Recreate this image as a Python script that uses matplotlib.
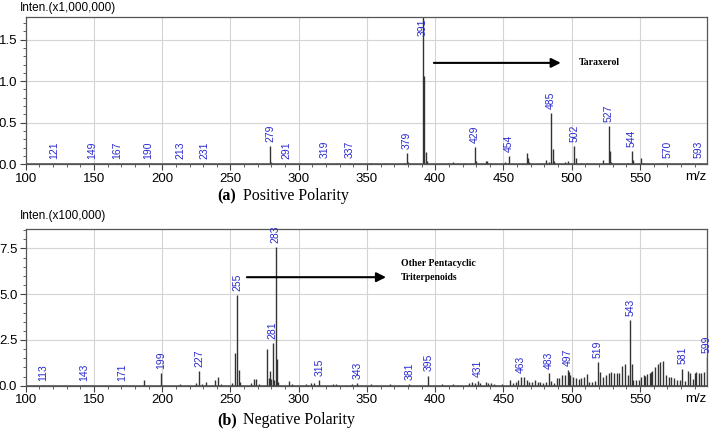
import matplotlib
matplotlib.use('Agg')
from matplotlib import pyplot as plt
from matplotlib.ticker import MultipleLocator

# positive polarity spectrum (intensity x1,000,000)
pos_mz = [121, 149, 167, 190, 213, 231, 255, 269, 279, 280, 291, 301, 319, 327, 337,
          353, 363, 377, 379, 380, 391, 392, 393, 394, 409, 413, 421, 429, 430, 437,
          438, 440, 451, 453, 454, 467, 468, 469, 481, 483, 485, 486, 487, 495, 497,
          502, 503, 507, 511, 523, 525, 527, 528, 529, 541, 544, 545, 549, 551, 553,
          565, 567, 570, 583, 585, 593]
pos_int = [0.01, 0.012, 0.01, 0.01, 0.01, 0.01, 0.008, 0.01, 0.22, 0.03, 0.012, 0.01, 0.02, 0.01, 0.02,
           0.01, 0.01, 0.02, 0.13, 0.03, 1.85, 1.06, 0.15, 0.04, 0.02, 0.025, 0.02, 0.21, 0.04, 0.04,
           0.035, 0.02, 0.025, 0.02, 0.10, 0.13, 0.08, 0.03, 0.05, 0.03, 0.62, 0.19, 0.04, 0.03, 0.035,
           0.22, 0.07, 0.015, 0.02, 0.05, 0.02, 0.46, 0.16, 0.03, 0.02, 0.16, 0.05, 0.02, 0.07, 0.02,
           0.02, 0.015, 0.02, 0.02, 0.02, 0.02]
pos_labels = [121, 149, 167, 190, 213, 231, 279, 291, 319, 337, 379, 391, 429, 454,
              485, 502, 527, 544, 570, 593]

# negative polarity spectrum (intensity x100,000)
neg_mz = [113, 143, 171, 187, 199, 213, 225, 227, 229, 232, 239, 241, 243, 251, 253,
          255, 256, 257, 265, 267, 269, 271, 277, 278, 279, 280, 281, 282, 283, 284,
          285, 293, 295, 305, 309, 311, 315, 325, 327, 339, 343, 353, 367, 381, 395,
          405, 413, 425, 427, 429, 431, 433, 437, 439, 441, 443, 449, 455, 457, 459,
          461, 463, 465, 467, 469, 471, 473, 475, 477, 479, 481, 483, 485, 487, 489,
          491, 493, 495, 497, 498, 499, 501, 503, 505, 507, 509, 511, 513, 515, 517,
          519, 521, 523, 525, 527, 529, 531, 533, 535, 537, 539, 541, 543, 544, 545,
          547, 549, 551, 553, 554, 555, 557, 558, 559, 561, 563, 565, 567, 569, 571,
          573, 575, 577, 579, 581, 583, 585, 587, 589, 590, 591, 593, 595, 597, 599]
neg_int = [0.05, 0.05, 0.05, 0.3, 0.68, 0.08, 0.15, 0.82, 0.1, 0.2, 0.3, 0.45, 0.1, 0.15, 1.8,
           4.96, 0.85, 0.2, 0.12, 0.35, 0.35, 0.1, 2.0, 0.4, 0.8, 0.35, 2.35, 0.3, 7.57, 1.44,
           0.2, 0.25, 0.1, 0.1, 0.12, 0.15, 0.3, 0.1, 0.08, 0.1, 0.12, 0.08, 0.08, 0.1, 0.55,
           0.08, 0.1, 0.15, 0.2, 0.15, 0.25, 0.12, 0.2, 0.15, 0.15, 0.1, 0.1, 0.3, 0.15, 0.2,
           0.3, 0.45, 0.45, 0.3, 0.2, 0.2, 0.3, 0.2, 0.2, 0.15, 0.2, 0.71, 0.25, 0.15, 0.4,
           0.4, 0.6, 0.6, 0.86, 0.75, 0.6, 0.5, 0.4, 0.35, 0.4, 0.5, 0.65, 0.2, 0.2, 0.25,
           1.31, 0.75, 0.45, 0.6, 0.7, 0.75, 0.7, 0.7, 0.7, 1.1, 1.2, 0.6, 3.59, 1.2, 0.3,
           0.3, 0.3, 0.5, 0.6, 0.55, 0.65, 0.7, 0.75, 0.8, 1.0, 1.2, 1.3, 1.33, 0.6, 0.5,
           0.45, 0.4, 0.3, 0.3, 0.93, 0.25, 0.8, 0.7, 0.35, 0.7, 0.75, 0.7, 0.7, 0.75, 1.55]
neg_labels = [113, 143, 171, 199, 227, 255, 281, 283, 315, 343, 381, 395, 431, 463,
              483, 497, 519, 543, 581, 599]

plt.rcParams['font.family'] = ['Liberation Sans', 'DejaVu Sans']

fig = plt.figure(figsize=(7.14, 4.29), dpi=100)
ax1 = fig.add_axes([0.036, 0.617, 0.954, 0.343])
ax2 = fig.add_axes([0.036, 0.101, 0.954, 0.365])


def draw_spectrum(ax, mz, inten, labels, ytop, yminor):
    ax.set_xlim(100, 599)
    ax.set_ylim(0, ytop)
    ax.grid(True, color='#d4d4d4', lw=0.8)
    ax.set_axisbelow(True)
    ax.vlines(mz, 0, inten, color='#333333', lw=1.0)
    ax.axhline(0, color='#444444', lw=1.8)
    ax.xaxis.set_major_locator(MultipleLocator(50))
    ax.xaxis.set_minor_locator(MultipleLocator(10))
    ax.yaxis.set_minor_locator(MultipleLocator(yminor))
    ax.tick_params(which='major', direction='out', length=4, labelsize=9.5, pad=2,
                   color='#444444')
    ax.tick_params(which='minor', direction='out', length=2.5, color='#444444')
    for s in ax.spines.values():
        s.set_color('#555555')
        s.set_linewidth(0.9)
    # peak labels
    for m in labels:
        v = inten[mz.index(m)]
        if v > ytop * 0.9:
            ax.text(m, ytop * 0.99, str(m), rotation=90, ha='center', va='top',
                    fontsize=7.5, color='#2a2ad0')
        else:
            ax.annotate(str(m), (m, v), xytext=(0, 3), textcoords='offset points',
                        rotation=90, ha='center', va='bottom', fontsize=7.5,
                        color='#2a2ad0', annotation_clip=False)
    ax.text(1.0, -0.045, 'm/z', transform=ax.transAxes, ha='right', va='top',
            fontsize=9.5)


draw_spectrum(ax1, pos_mz, pos_int, pos_labels, 1.77, 0.1)
ax1.set_yticks([0.0, 0.5, 1.0, 1.5])
ax1.set_yticklabels(['0.0', '0.5', '1.0', '1.5'])
draw_spectrum(ax2, neg_mz, neg_int, neg_labels, 8.56, 0.5)
ax2.set_yticks([0.0, 2.5, 5.0, 7.5])
ax2.set_yticklabels(['0.0', '2.5', '5.0', '7.5'])

# annotations
ax1.annotate('', xy=(494, 1.22), xytext=(397, 1.22),
             arrowprops=dict(arrowstyle='-|>', color='black', lw=1.5, mutation_scale=14))
ax1.text(505, 1.22, 'Taraxerol', fontsize=7, fontweight='bold', va='center',
         family='Liberation Serif')
ax2.annotate('', xy=(366, 5.93), xytext=(260, 5.93),
             arrowprops=dict(arrowstyle='-|>', color='black', lw=1.5, mutation_scale=14))
ax2.text(375, 6.3, 'Other Pentacyclic\nTriterpenoids', fontsize=7, fontweight='bold',
         va='center', ha='left', family='Liberation Serif', linespacing=1.6)

fig.text(20 / 714, 1 - 8 / 429, 'Inten.(x1,000,000)', fontsize=8.5, va='center')
fig.text(20 / 714, 1 - 216 / 429, 'Inten.(x100,000)', fontsize=8.5, va='center')

fig.text(217 / 714, 1 - 196 / 429, '(a)', fontsize=11.5, fontweight='bold', va='center',
         family='Liberation Serif')
fig.text(243 / 714, 1 - 196 / 429, 'Positive Polarity', fontsize=11.5, va='center',
         family='Liberation Serif')
fig.text(217 / 714, 1 - 420 / 429, '(b)', fontsize=11.5, fontweight='bold', va='center',
         family='Liberation Serif')
fig.text(243 / 714, 1 - 420 / 429, 'Negative Polarity', fontsize=11.5, va='center',
         family='Liberation Serif')

fig.savefig('out.png', dpi=100)
